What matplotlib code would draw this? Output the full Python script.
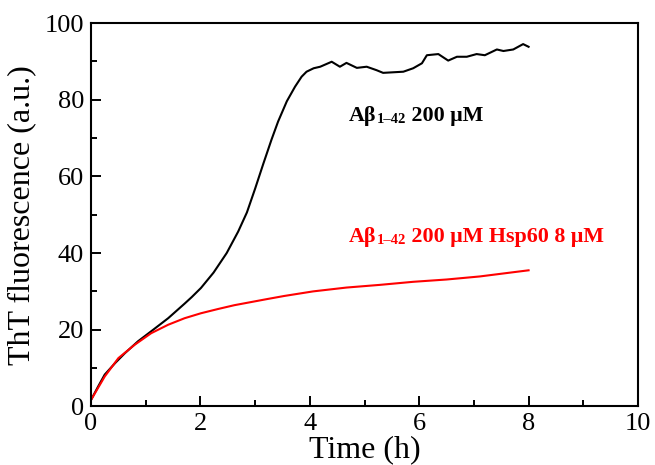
import matplotlib
matplotlib.use("Agg")
import matplotlib.pyplot as plt
from matplotlib.ticker import MultipleLocator

plt.rcParams['font.family'] = ['Liberation Serif', 'DejaVu Serif']

# Abeta 1-42 200 uM (black)
t_black = [0.0, 0.13, 0.25, 0.44, 0.62, 0.86, 1.10, 1.41, 1.71, 1.84, 2.01, 2.24, 2.48,
           2.69, 2.85, 3.00, 3.15, 3.30, 3.42, 3.58, 3.73, 3.85, 3.94, 4.07, 4.19, 4.40,
           4.55, 4.67, 4.86, 5.04, 5.22, 5.34, 5.71, 5.89, 6.05, 6.14, 6.35, 6.53, 6.69,
           6.87, 7.05, 7.20, 7.42, 7.54, 7.72, 7.90, 8.0]
y_black = [1.7, 5.2, 8.3, 11.3, 13.9, 17.0, 19.6, 23.0, 26.8, 28.5, 30.9, 34.9, 40.0,
           45.6, 50.6, 56.8, 63.3, 69.6, 74.3, 79.6, 83.4, 86.0, 87.3, 88.2, 88.6, 89.9,
           88.6, 89.6, 88.3, 88.6, 87.7, 87.0, 87.3, 88.2, 89.5, 91.6, 91.9, 90.2, 91.2,
           91.2, 91.9, 91.6, 93.1, 92.7, 93.1, 94.5, 93.8]

# Abeta 1-42 200 uM + Hsp60 8 uM (red)
t_red = [0.0, 0.25, 0.50, 0.80, 1.10, 1.41, 1.71, 2.01, 2.32, 2.62, 2.92, 3.22, 3.53,
         4.06, 4.67, 5.28, 5.89, 6.50, 7.11, 7.72, 8.0]
y_red = [1.7, 7.8, 12.6, 16.1, 19.1, 21.3, 23.0, 24.3, 25.4, 26.4, 27.2, 28.0, 28.8,
         30.0, 31.0, 31.7, 32.5, 33.1, 33.9, 35.0, 35.5]

fig = plt.figure(figsize=(6.55, 4.65), dpi=100)
ax = fig.add_axes([0.139, 0.126, 0.835, 0.8245])

ax.plot(t_black, y_black, color='black', lw=1.5)
ax.plot(t_red, y_red, color='#ff0000', lw=1.5)

ax.set_xlim(0, 10)
ax.set_ylim(0, 100)
ax.xaxis.set_major_locator(MultipleLocator(2))
ax.xaxis.set_minor_locator(MultipleLocator(1))
ax.yaxis.set_major_locator(MultipleLocator(20))
ax.yaxis.set_minor_locator(MultipleLocator(10))
ax.tick_params(which='both', direction='in', top=False, right=False, width=1.4,
               labelsize=19, pad=5)
ax.tick_params(which='major', length=7.5)
ax.tick_params(which='minor', length=4.5)
for s in ax.spines.values():
    s.set_linewidth(1.5)

ax.set_xlabel('Time (h)', fontsize=23, labelpad=0)
ax.set_ylabel('ThT fluorescence (a.u.)', fontsize=23, labelpad=6)


def label(x, y, tail, color):
    p1 = ax.text(x, y, 'A\u03b2', fontsize=15.8, fontweight='bold', color=color,
                 ha='left', va='baseline')
    p2 = ax.annotate('1\u201342', xy=(1, 0), xycoords=p1, fontsize=10.5,
                     fontweight='bold', color=color, ha='left', va='bottom',
                     xytext=(0.3, 0), textcoords='offset points')
    ax.annotate(tail, xy=(1, 0), xycoords=p2, fontsize=15.8, fontweight='bold',
                color=color, ha='left', va='bottom')


label(4.72, 74.4, ' 200 \u03bcM', 'black')
label(4.72, 43.0, ' 200 \u03bcM Hsp60 8 \u03bcM', '#ff0000')

fig.savefig('out.png', dpi=100)
